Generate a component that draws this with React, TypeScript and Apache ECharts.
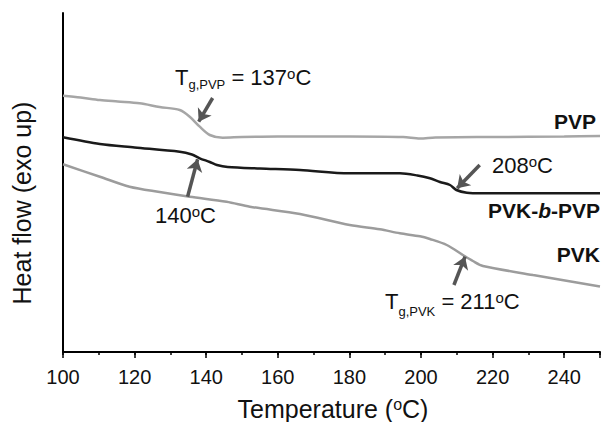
import React, { useEffect, useRef } from "react";
import * as echarts from "echarts";

// Temperature (°C) and heat flow (arbitrary units, exo up)
const PVP_T = [100, 104.9, 110.3, 115.3, 121.4, 127, 132.6, 135.4, 138.2, 141, 144.6, 150, 160, 180, 195, 199.7, 204, 220, 240, 250];
const PVP_HF = [256.3, 254.5, 252, 250.5, 248.7, 245, 242, 235.3, 225.3, 217, 214.3, 215, 215.5, 215.5, 215, 213.5, 214.5, 215, 215.5, 216];

const BLOCK_T = [100, 110.3, 120, 132.6, 136, 138.2, 141, 143, 146, 155, 166.2, 180, 194.1, 199, 202.5, 205.3, 208.1, 209.9, 212.8, 217, 230, 250];
const BLOCK_HF = [214.7, 208, 204.6, 200.3, 197.5, 193.7, 190, 187, 185, 183.5, 182, 178.7, 178.7, 176.5, 173.7, 170, 167, 162, 159.3, 158.7, 158.7, 158.7];

const PVK_T = [100, 110.3, 118.6, 127, 135.4, 145.7, 152.2, 166.2, 180.1, 188.5, 194.1, 199.7, 202.5, 207.2, 211.7, 214.5, 217.3, 231.3, 250];
const PVK_HF = [187.7, 175.3, 165.3, 160, 155.3, 150.3, 145.3, 138, 127, 122.7, 118.7, 115.7, 113, 107, 97, 91, 86, 77, 65.5];

// Arrow annotations: [tailT, tailHF, tipT, tipHF]
const ARROW_PVP = [141.8, 254, 137.9, 230.3];
const ARROW_BLOCK_LOW = [134.8, 155.3, 137.6, 192.7];
const ARROW_BLOCK_HIGH = [216.4, 187, 210.1, 163.7];
const ARROW_PVK = [209.2, 67, 212.3, 95.3];

const X_MIN = 100;
const X_MAX = 250;
const X_STEP = 20;
const Y_MIN = 0;
const Y_MAX = 339;

const FONT = "'Liberation Sans', Arial, Helvetica, sans-serif";
const INK = "#111111";

const zip = (a: number[], b: number[]) => a.map((v, i) => [v, b[i]]);

type Seg = { t: string; size: number; dy?: number; weight?: string; italic?: boolean };

let measureCtx: CanvasRenderingContext2D | null = null;
function measure(t: string, size: number, weight = "normal", italic = false): number {
  if (!measureCtx) measureCtx = document.createElement("canvas").getContext("2d");
  if (!measureCtx) return t.length * size * 0.55;
  measureCtx.font = `${italic ? "italic" : "normal"} ${weight} ${size}px ${FONT}`;
  return measureCtx.measureText(t).width;
}

// Lay out a run of text pieces (main text, sub/superscripts) left to right
function segText(segs: Seg[], x: number, y: number, align: "left" | "center" | "right") {
  const widths = segs.map((s) => measure(s.t, s.size, s.weight || "normal", !!s.italic));
  const total = widths.reduce((a, b) => a + b, 0);
  let cx = align === "left" ? x : align === "center" ? x - total / 2 : x - total;
  const els: any[] = [];
  segs.forEach((s, i) => {
    const trimmed = s.t.replace(/^\s+/, "");
    const lead = s.t.length - trimmed.length;
    const leadW = lead > 0 ? measure(s.t.slice(0, lead), s.size, s.weight || "normal", !!s.italic) : 0;
    els.push({
      type: "text",
      x: cx + leadW,
      y: y + (s.dy || 0),
      silent: true,
      style: {
        text: trimmed.replace(/\s+$/, ""),
        fontSize: s.size,
        fontFamily: FONT,
        fontWeight: s.weight || "normal",
        fontStyle: s.italic ? "italic" : "normal",
        fill: INK,
        align: "left",
        verticalAlign: "middle",
      },
    });
    cx += widths[i];
  });
  return els;
}

const M = 22; // annotation font size
const SUB = 13;
const SUP = 15;
const SUP_DY = -4;

export default function App() {
  const ref = useRef<HTMLDivElement>(null);

  useEffect(() => {
    if (!ref.current) return;
    const chart = echarts.init(ref.current, undefined, { renderer: "svg" });

    const arrow = (a: number[]) => [
      { coord: [a[0], a[1]] },
      { coord: [a[2], a[3]] },
    ];

    const graphics: any[] = [
      {
        type: "text",
        x: 22,
        y: 203,
        rotation: Math.PI / 2,
        silent: true,
        style: {
          text: "Heat flow (exo up)",
          fontSize: 25,
          fontFamily: FONT,
          fill: INK,
          align: "center",
          verticalAlign: "middle",
        },
      },
      ...segText(
        [
          { t: "Temperature (", size: 25 },
          { t: "o", size: 16, dy: -3.6 },
          { t: "C)", size: 25 },
        ],
        333,
        408.5,
        "center"
      ),
      ...segText(
        [
          { t: "T", size: M },
          { t: "g,PVP", size: SUB, dy: 7.5 },
          { t: " = 137", size: M },
          { t: "o", size: SUP, dy: SUP_DY },
          { t: "C", size: M },
        ],
        175,
        77.3,
        "left"
      ),
      ...segText(
        [
          { t: "T", size: M },
          { t: "g,PVK", size: SUB, dy: 10.5 },
          { t: " = 211", size: M },
          { t: "o", size: SUP, dy: SUP_DY },
          { t: "C", size: M },
        ],
        385,
        301,
        "left"
      ),
      ...segText(
        [
          { t: "140", size: M },
          { t: "o", size: SUP, dy: SUP_DY },
          { t: "C", size: M },
        ],
        155,
        215.5,
        "left"
      ),
      ...segText(
        [
          { t: "208", size: M },
          { t: "o", size: SUP, dy: SUP_DY },
          { t: "C", size: M },
        ],
        492,
        165.5,
        "left"
      ),
      ...segText([{ t: "PVP", size: 21, weight: "bold" }], 596, 121.7, "right"),
      ...segText(
        [
          { t: "PVK-", size: 21, weight: "bold" },
          { t: "b", size: 21, weight: "bold", italic: true },
          { t: "-PVP", size: 21, weight: "bold" },
        ],
        600,
        210.5,
        "right"
      ),
      ...segText([{ t: "PVK", size: 21, weight: "bold" }], 600, 254, "right"),
    ];

    const option: any = {
      animation: false,
      backgroundColor: "#ffffff",
      grid: { left: 63, right: 3, top: 13, bottom: 70, containLabel: false, outerBoundsMode: "none" },
      xAxis: [
        {
          type: "value",
          min: X_MIN,
          max: X_MAX,
          interval: X_STEP / 2,
          position: "bottom",
          axisLine: { show: true, lineStyle: { color: "#000", width: 2 } },
          axisTick: { show: true, inside: false, length: 3, lineStyle: { color: "#000", width: 1.5 } },
          axisLabel: {
            show: true,
            margin: 15,
            fontSize: 20,
            fontFamily: FONT,
            color: INK,
            formatter: (v: number) => (v % X_STEP === 0 && v !== X_MAX ? String(v) : ""),
          },
          splitLine: { show: false },
        },
        {
          type: "value",
          min: X_MIN,
          max: X_MAX,
          interval: X_STEP,
          position: "bottom",
          offset: 0,
          axisLine: { show: false },
          axisTick: { show: true, inside: false, length: 6, lineStyle: { color: "#000", width: 1.5 } },
          axisLabel: { show: false },
          splitLine: { show: false },
        },
      ],
      yAxis: {
        type: "value",
        min: Y_MIN,
        max: Y_MAX,
        axisLine: { show: true, lineStyle: { color: "#000", width: 2 } },
        axisTick: { show: false },
        axisLabel: { show: false },
        splitLine: { show: false },
      },
      series: [
        {
          name: "PVP",
          type: "line",
          xAxisIndex: 0,
          data: zip(PVP_T, PVP_HF),
          showSymbol: false,
          smooth: 0.3,
          lineStyle: { color: "#a6a6a6", width: 2.5 },
          silent: true,
          markLine: {
            silent: true,
            symbol: ["none", "arrow"],
            symbolSize: 12,
            label: { show: false },
            lineStyle: { color: "#555555", width: 3.5, type: "solid" },
            data: [arrow(ARROW_PVP), arrow(ARROW_BLOCK_LOW), arrow(ARROW_BLOCK_HIGH), arrow(ARROW_PVK)],
          },
        },
        {
          name: "PVK-b-PVP",
          type: "line",
          xAxisIndex: 0,
          data: zip(BLOCK_T, BLOCK_HF),
          showSymbol: false,
          smooth: 0.3,
          lineStyle: { color: "#1a1a1a", width: 2.5 },
          silent: true,
        },
        {
          name: "PVK",
          type: "line",
          xAxisIndex: 0,
          data: zip(PVK_T, PVK_HF),
          showSymbol: false,
          smooth: 0.3,
          lineStyle: { color: "#9c9c9c", width: 2.5 },
          silent: true,
        },
      ],
      graphic: graphics,
    };

    chart.setOption(option);
    return () => chart.dispose();
  }, []);

  return (
    <div
      ref={ref}
      style={{ position: "fixed", left: 0, top: 0, width: 603, height: 422, background: "#fff" }}
    />
  );
}
